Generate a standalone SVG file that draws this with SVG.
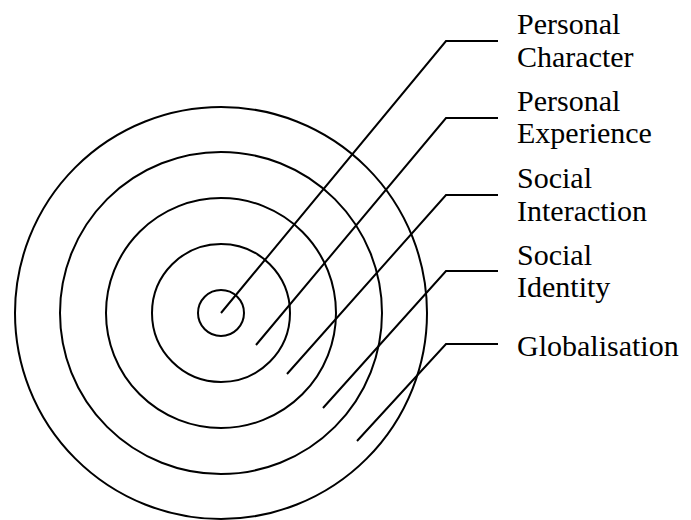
<svg xmlns="http://www.w3.org/2000/svg" width="691" height="520" viewBox="0 0 691 520">
<style>
.ring{fill:none;stroke:#000;stroke-width:2}
.conn{fill:none;stroke:#000;stroke-width:2;stroke-linejoin:miter}
.lbl{font-family:"Liberation Serif","Times New Roman",serif;font-size:30px;fill:#000}
</style>
<rect width="691" height="520" fill="#fff"/>
<g id="rings">
<circle id="ring-character" class="ring" cx="221" cy="313" r="23"/>
<circle id="ring-experience" class="ring" cx="221" cy="313" r="69"/>
<circle id="ring-interaction" class="ring" cx="221" cy="313" r="115"/>
<circle id="ring-identity" class="ring" cx="221" cy="313" r="161"/>
<circle id="ring-globalisation" class="ring" cx="221" cy="313" r="206"/>
</g>
<g id="connectors">
<polyline class="conn" points="221,313 446,41 498,41"/>
<polyline class="conn" points="256,345 446,118 498,118"/>
<polyline class="conn" points="287,374 446,195 498,195"/>
<polyline class="conn" points="323,408 446,271 498,271"/>
<polyline class="conn" points="357,441 446,344 498,344"/>
</g>
<g id="label-character"><text class="lbl" x="517" y="34">Personal</text><text class="lbl" x="517" y="67">Character</text></g>
<g id="label-experience"><text class="lbl" x="517" y="111">Personal</text><text class="lbl" x="517" y="143">Experience</text></g>
<g id="label-interaction"><text class="lbl" x="517" y="188">Social</text><text class="lbl" x="517" y="221">Interaction</text></g>
<g id="label-identity"><text class="lbl" x="517" y="265">Social</text><text class="lbl" x="517" y="297">Identity</text></g>
<g id="label-globalisation"><text class="lbl" x="517" y="356">Globalisation</text></g>
</svg>
